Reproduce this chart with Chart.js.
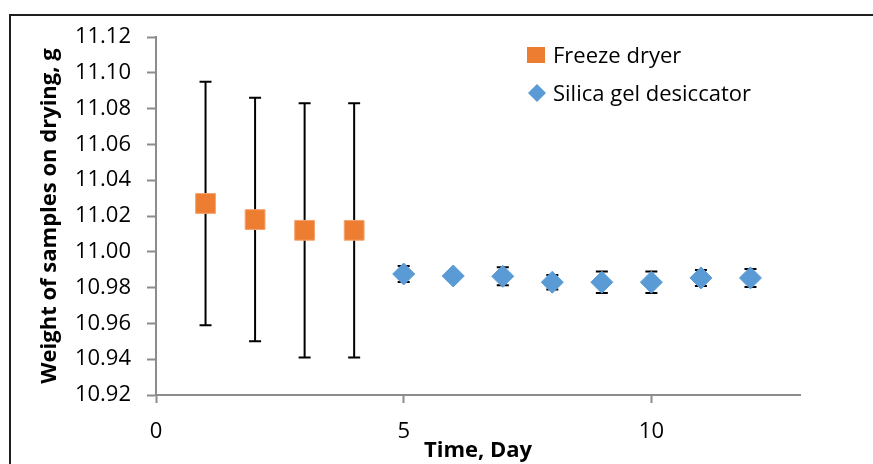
<!DOCTYPE html>
<html>
<head>
<meta charset="utf-8">
<title>Weight of samples on drying</title>
<script src="https://cdn.jsdelivr.net/npm/chart.js@4/dist/chart.umd.min.js"></script>
<style>
  html, body { margin: 0; padding: 0; background: #fff; overflow: hidden; }
  .frame {
    position: absolute; left: 9px; top: 14px;
    width: 1000px; height: 600px;
    border: 2px solid #1e1e1e;
  }
  .chart-wrap { position: absolute; left: 0; top: 0; width: 873px; height: 464px; }
</style>
</head>
<body>
<div class="frame"></div>
<div class="chart-wrap"><canvas id="dryingChart" width="873" height="464"></canvas></div>
<script>
const freezeDays = [1, 2, 3, 4];
const freezeWeight = [11.027, 11.018, 11.012, 11.012];
const freezeErr = [0.068, 0.068, 0.071, 0.071];

const silicaDays = [5, 6, 7, 8, 9, 10, 11, 12];
const silicaWeight = [10.9876, 10.9865, 10.9863, 10.983, 10.983, 10.983, 10.9854, 10.9854];
const silicaErr = [0.0045, 0.002, 0.005, 0.004, 0.006, 0.006, 0.0045, 0.005];

const xTicks = [0, 5, 10];
const yTicks = [10.92, 10.94, 10.96, 10.98, 11.00, 11.02, 11.04, 11.06, 11.08, 11.10, 11.12];

(function () {
  const FONT = "'Open Sans', 'DejaVu Sans', sans-serif";
  const ORANGE = '#ED7D31';
  const BLUE = '#5B9BD5';
  const AXIS = '#8c8c8c';

  const toPoints = (xs, ys) => xs.map((x, i) => ({ x, y: ys[i] }));

  // draws the +/- bars under the markers, positions come from the scales
  const errorBarPlugin = {
    id: 'errorBars',
    beforeDatasetsDraw(chart) {
      const { ctx, scales: { x, y } } = chart;
      ctx.save();
      ctx.strokeStyle = '#000';
      ctx.lineWidth = 2;
      chart.data.datasets.forEach((ds) => {
        const errs = ds.errorBars || [];
        ds.data.forEach((pt, i) => {
          const e = errs[i];
          if (!e) return;
          const px = x.getPixelForValue(pt.x);
          const top = y.getPixelForValue(pt.y + e);
          const bottom = y.getPixelForValue(pt.y - e);
          ctx.beginPath();
          ctx.moveTo(px, top);
          ctx.lineTo(px, bottom);
          ctx.moveTo(px - 6, top);
          ctx.lineTo(px + 6, top);
          ctx.moveTo(px - 6, bottom);
          ctx.lineTo(px + 6, bottom);
          ctx.stroke();
        });
      });
      ctx.restore();
    }
  };

  // legend sits inside the plot, like the Excel original
  const insideLegend = {
    id: 'insideLegend',
    afterDraw(chart) {
      const { ctx } = chart;
      const sets = chart.data.datasets;
      ctx.save();
      ctx.font = '22px ' + FONT;
      ctx.textBaseline = 'alphabetic';

      ctx.fillStyle = sets[0].backgroundColor;
      ctx.fillRect(527, 47, 18, 16);
      ctx.fillStyle = '#000';
      ctx.fillText(sets[0].label, 553, 63);

      ctx.fillStyle = sets[1].backgroundColor;
      ctx.beginPath();
      ctx.moveTo(537, 84);
      ctx.lineTo(546, 93);
      ctx.lineTo(537, 102);
      ctx.lineTo(528, 93);
      ctx.closePath();
      ctx.fill();
      ctx.fillStyle = '#000';
      ctx.fillText(sets[1].label, 553, 101);
      ctx.restore();
    }
  };

  document.addEventListener('DOMContentLoaded', () => {
    const canvas = document.getElementById('dryingChart');
    if (!canvas) return;

    new Chart(canvas, {
      type: 'scatter',
      data: {
        datasets: [
          {
            label: 'Freeze dryer',
            data: toPoints(freezeDays, freezeWeight),
            errorBars: freezeErr,
            pointStyle: 'rect',
            pointRadius: 14,
            backgroundColor: ORANGE,
            borderColor: '#f4a470',
            borderWidth: 1
          },
          {
            label: 'Silica gel desiccator',
            data: toPoints(silicaDays, silicaWeight),
            errorBars: silicaErr,
            pointStyle: 'rectRot',
            pointRadius: 11,
            backgroundColor: BLUE,
            borderColor: BLUE,
            borderWidth: 1
          }
        ]
      },
      options: {
        responsive: false,
        animation: false,
        events: [],
        layout: { padding: { left: 0, right: 73, top: 37, bottom: 0 } },
        plugins: {
          legend: { display: false },
          tooltip: { enabled: false }
        },
        scales: {
          x: {
            type: 'linear',
            min: 0,
            max: 13,
            afterBuildTicks: (s) => { s.ticks = xTicks.map((v) => ({ value: v })); },
            afterFit: (s) => { s.height = 69; },
            border: { display: true, color: AXIS, width: 2 },
            grid: { drawOnChartArea: false, drawTicks: true, tickLength: 8, tickColor: AXIS, tickWidth: 2 },
            ticks: { padding: 16, color: '#000', font: { family: FONT, size: 22 } },
            title: {
              display: true,
              text: 'Time, Day',
              color: '#000',
              padding: { top: 0, bottom: 0 },
              font: { family: FONT, size: 22, weight: 'bold' }
            }
          },
          y: {
            min: 10.92,
            max: 11.12,
            afterBuildTicks: (s) => { s.ticks = yTicks.map((v) => ({ value: v })); },
            afterFit: (s) => { s.width = 156; },
            border: { display: true, color: AXIS, width: 2 },
            grid: { drawOnChartArea: false, drawTicks: true, tickLength: 9, tickColor: AXIS, tickWidth: 2 },
            ticks: {
              padding: 16,
              color: '#000',
              font: { family: FONT, size: 22 },
              callback: (v) => Number(v).toFixed(2)
            },
            title: {
              display: true,
              text: 'Weight of samples on drying, g',
              color: '#000',
              padding: { top: 37, bottom: 0 },
              font: { family: FONT, size: 22, weight: 'bold' }
            }
          }
        }
      },
      plugins: [errorBarPlugin, insideLegend]
    });
  });
})();
</script>
</body>
</html>
